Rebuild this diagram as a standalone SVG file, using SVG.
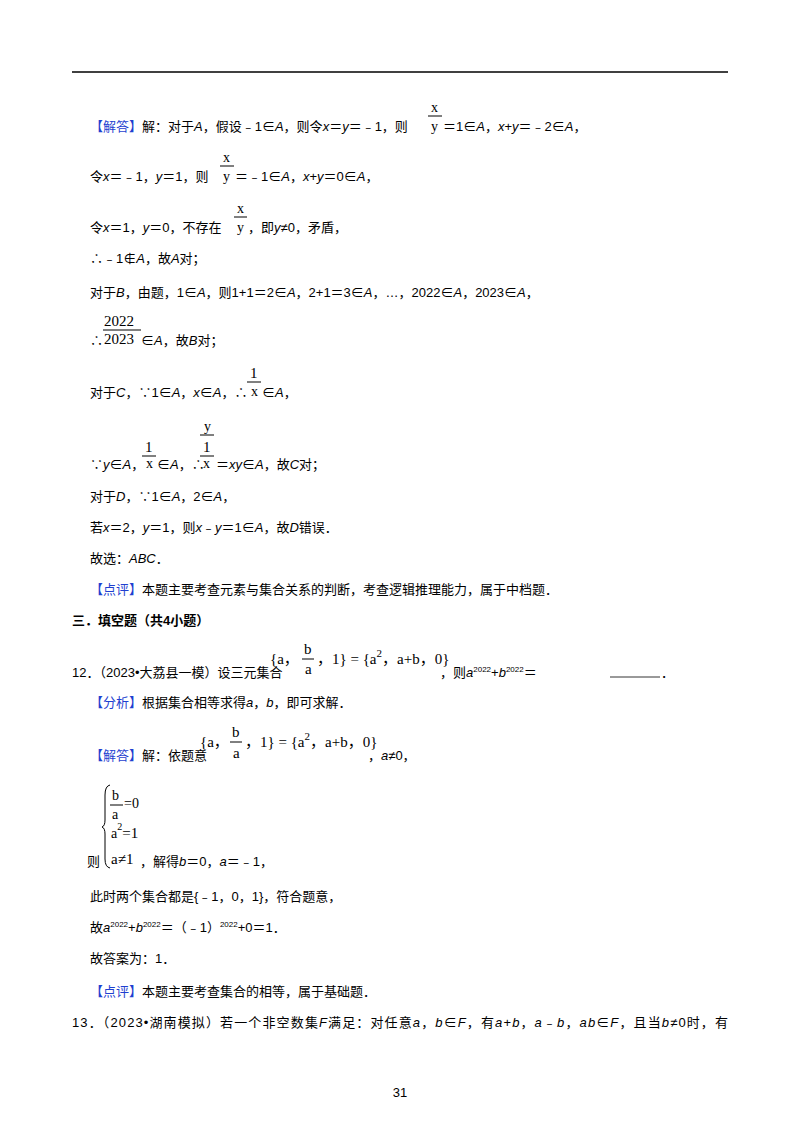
<svg xmlns="http://www.w3.org/2000/svg" width="800" height="1132" viewBox="0 0 800 1132">
<style>
text{font-family:"Liberation Sans","Noto Sans CJK SC",sans-serif;font-size:13px;fill:#000}
.i{font-style:italic}
.b{fill:#1f3fd0}
.s{font-family:"Liberation Serif","Noto Sans CJK SC",serif;font-size:14px}
.m{font-family:"Liberation Serif","Noto Sans CJK SC",serif;font-size:15px}
.sup{font-size:8px}
.bar{stroke:#000;stroke-width:1}
</style>
<rect width="800" height="1132" fill="#fff"/>
<line x1="72" y1="72" x2="728" y2="72" stroke="#000" stroke-width="1.5"/>
<g id="body">
<text x="90" y="131"><tspan class="b">【解答】</tspan>解：对于<tspan class="i">A</tspan>，假设﹣1∈<tspan class="i">A</tspan>，则令<tspan class="i">x</tspan>＝<tspan class="i">y</tspan>＝﹣1，则</text>
<text class="s" x="431" y="112">x</text><line class="bar" x1="428" y1="116" x2="442" y2="116"/><text class="s" x="431" y="131">y</text>
<text x="443" y="131">＝1∈<tspan class="i">A</tspan>，<tspan class="i">x</tspan>+<tspan class="i">y</tspan>＝﹣2∈<tspan class="i">A</tspan>，</text>

<text x="90" y="181">令<tspan class="i">x</tspan>＝﹣1，<tspan class="i">y</tspan>＝1，则</text>
<text class="s" x="223" y="162">x</text><line class="bar" x1="220" y1="166" x2="234" y2="166"/><text class="s" x="223" y="181">y</text>
<text x="235" y="181">＝﹣1∈<tspan class="i">A</tspan>，<tspan class="i">x</tspan>+<tspan class="i">y</tspan>＝0∈<tspan class="i">A</tspan>，</text>

<text x="90" y="232">令<tspan class="i">x</tspan>＝1，<tspan class="i">y</tspan>＝0，不存在</text>
<text class="s" x="237" y="213">x</text><line class="bar" x1="234" y1="217" x2="247" y2="217"/><text class="s" x="237" y="232">y</text>
<text x="248" y="232">，即<tspan class="i">y</tspan>≠0，矛盾，</text>

<text x="90" y="263">∴﹣1∉<tspan class="i">A</tspan>，故<tspan class="i">A</tspan>对；</text>
<text x="90" y="297">对于<tspan class="i">B</tspan>，由题，1∈<tspan class="i">A</tspan>，则1+1＝2∈<tspan class="i">A</tspan>，2+1＝3∈<tspan class="i">A</tspan>，…，2022∈<tspan class="i">A</tspan>，2023∈<tspan class="i">A</tspan>，</text>

<text class="m" x="104" y="326">2022</text><line class="bar" x1="103" y1="330" x2="141" y2="330"/><text class="m" x="104" y="344">2023</text>
<text x="90" y="345">∴</text><text x="141" y="345">∈<tspan class="i">A</tspan>，故<tspan class="i">B</tspan>对；</text>

<text x="90" y="397">对于<tspan class="i">C</tspan>，∵1∈<tspan class="i">A</tspan>，<tspan class="i">x</tspan>∈<tspan class="i">A</tspan>，∴</text>
<text class="m" x="250" y="378">1</text><line class="bar" x1="247" y1="382" x2="261" y2="382"/><text class="s" x="251" y="396">x</text>
<text x="262" y="397">∈<tspan class="i">A</tspan>，</text>

<text x="90" y="469">∵<tspan class="i">y</tspan>∈<tspan class="i">A</tspan>，</text>
<text class="m" x="145" y="452">1</text><line class="bar" x1="142" y1="456" x2="156" y2="456"/><text class="s" x="146" y="468">x</text>
<text x="157" y="469">∈<tspan class="i">A</tspan>，∴</text>
<text class="s" x="204" y="431">y</text><line class="bar" x1="200" y1="435" x2="214" y2="435"/>
<text class="m" x="203" y="452">1</text><line class="bar" x1="200" y1="456" x2="214" y2="456"/><text class="s" x="203" y="468">x</text>
<text x="216" y="469">＝<tspan class="i">xy</tspan>∈<tspan class="i">A</tspan>，故<tspan class="i">C</tspan>对；</text>

<text x="90" y="501">对于<tspan class="i">D</tspan>，∵1∈<tspan class="i">A</tspan>，2∈<tspan class="i">A</tspan>，</text>
<text x="90" y="532">若<tspan class="i">x</tspan>＝2，<tspan class="i">y</tspan>＝1，则<tspan class="i">x</tspan>﹣<tspan class="i">y</tspan>＝1∈<tspan class="i">A</tspan>，故<tspan class="i">D</tspan>错误．</text>
<text x="90" y="563">故选：<tspan class="i">ABC</tspan>．</text>
<text x="90" y="594"><tspan class="b">【点评】</tspan>本题主要考查元素与集合关系的判断，考查逻辑推理能力，属于中档题．</text>

<text x="72" y="625" font-weight="bold">三．填空题（共4小题）</text>

<text x="72" y="677">12．（2023•大荔县一模）设三元集合</text>
<text class="m" x="270" y="664">{a，</text><text class="m" x="304" y="654">b</text><line class="bar" x1="302" y1="659" x2="314" y2="659"/><text class="m" x="305" y="674">a</text>
<text class="m" x="317" y="664">，1} = {a<tspan font-size="11" dy="-7">2</tspan><tspan dy="7">，a+b，0}</tspan></text>
<text x="440" y="677">，则<tspan class="i">a</tspan><tspan class="sup" dy="-5">2022</tspan><tspan dy="5">+</tspan><tspan class="i">b</tspan><tspan class="sup" dy="-5">2022</tspan><tspan dy="5">＝</tspan></text>
<line x1="610" y1="677" x2="660" y2="677" stroke="#000" stroke-width="0.8"/><text x="661" y="677">．</text>

<text x="90" y="707"><tspan class="b">【分析】</tspan>根据集合相等求得<tspan class="i">a</tspan>，<tspan class="i">b</tspan>，即可求解．</text>

<text x="90" y="760"><tspan class="b">【解答】</tspan>解：依题意</text>
<text class="m" x="200" y="747">{a，</text><text class="m" x="232" y="737">b</text><line class="bar" x1="230" y1="742" x2="242" y2="742"/><text class="m" x="233" y="758">a</text>
<text class="m" x="245" y="747">，1} = {a<tspan font-size="11" dy="-7">2</tspan><tspan dy="7">，a+b，0}</tspan></text>
<text x="368" y="760">，<tspan class="i">a</tspan>≠0，</text>

<path d="M110 785 Q105 786 105 795 L105 820 Q105 826 102 827 Q105 828 105 834 L105 859 Q105 867 110 868" fill="none" stroke="#000" stroke-width="1"/>
<text class="s" x="112" y="800">b</text><line class="bar" x1="110" y1="805" x2="123" y2="805"/><text class="s" x="112" y="819">a</text><text class="s" x="124" y="808">=0</text>
<text class="s" x="111" y="838">a<tspan font-size="10" dy="-8">2</tspan><tspan class="m" dy="8">=1</tspan></text>
<text class="m" x="111" y="864">a≠1</text>
<text x="87" y="866">则</text><text x="140" y="866">，解得<tspan class="i">b</tspan>＝0，<tspan class="i">a</tspan>＝﹣1，</text>

<text x="90" y="901">此时两个集合都是{﹣1，0，1}，符合题意，</text>
<text x="90" y="932">故<tspan class="i">a</tspan><tspan class="sup" dy="-5">2022</tspan><tspan dy="5">+</tspan><tspan class="i">b</tspan><tspan class="sup" dy="-5">2022</tspan><tspan dy="5">＝（﹣1）</tspan><tspan class="sup" dy="-5">2022</tspan><tspan dy="5">+0＝1．</tspan></text>
<text x="90" y="963">故答案为：1．</text>
<text x="90" y="996"><tspan class="b">【点评】</tspan>本题主要考查集合的相等，属于基础题．</text>
<text x="72" y="1027" textLength="656" lengthAdjust="spacing">13．（2023•湖南模拟）若一个非空数集<tspan class="i">F</tspan>满足：对任意<tspan class="i">a</tspan>，<tspan class="i">b</tspan>∈<tspan class="i">F</tspan>，有<tspan class="i">a</tspan>+<tspan class="i">b</tspan>，<tspan class="i">a</tspan>﹣<tspan class="i">b</tspan>，<tspan class="i">ab</tspan>∈<tspan class="i">F</tspan>，且当<tspan class="i">b</tspan>≠0时，有</text>
<text x="400" y="1097" font-size="10" text-anchor="middle">31</text>
</g>
</svg>
